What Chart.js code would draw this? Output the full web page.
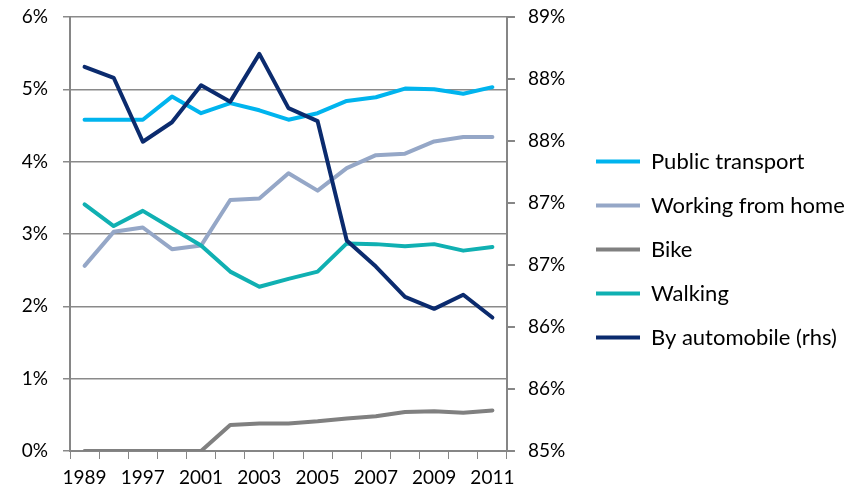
<!DOCTYPE html>
<html>
<head>
  <title>Commuting shares</title>
  <script src="https://cdn.jsdelivr.net/npm/chart.js"></script>
  <style>
    body { margin: 0; background: #fff; }
  </style>
</head>
<body>
  <canvas id="myChart" width="867" height="494"></canvas>

<script>
  // categories (only every other one is labelled on the axis)
  const years = ['1989', '1993', '1997', '2000', '2001', '2002', '2003', '2004', '2005', '2006', '2007', '2008', '2009', '2010', '2011'];

  // left axis, % of commuters
  const publicTransport = [4.58, 4.58, 4.58, 4.90, 4.67, 4.81, 4.71, 4.58, 4.67, 4.84, 4.89, 5.01, 5.00, 4.94, 5.03];
  const workingFromHome = [2.56, 3.03, 3.09, 2.79, 2.84, 3.47, 3.49, 3.84, 3.60, 3.91, 4.09, 4.11, 4.28, 4.34, 4.34];
  const bike = [0, 0, 0, 0, 0, 0.36, 0.38, 0.38, 0.41, 0.45, 0.48, 0.54, 0.55, 0.53, 0.56];
  const walking = [3.41, 3.11, 3.32, 3.08, 2.84, 2.48, 2.27, 2.38, 2.48, 2.87, 2.86, 2.83, 2.86, 2.77, 2.82];

  // right axis (rhs)
  const automobile = [88.54, 88.44, 87.85, 88.03, 88.37, 88.22, 88.66, 88.16, 88.04, 86.94, 86.70, 86.42, 86.31, 86.44, 86.23];

  const font = "Lato, 'Open Sans', sans-serif";
  const axisGrey = '#868686';

  function line(label, data, color, order, axis) {
    return {
      label: label,
      data: data,
      borderColor: color,
      backgroundColor: color,
      borderWidth: 4,
      borderJoinStyle: 'round',
      borderCapStyle: 'round',
      pointRadius: 0,
      tension: 0,
      order: order,
      yAxisID: axis
    };
  }

  // the layout caps a side legend at 1/6 of the width, so move it next to the rhs axis afterwards
  const legendSpot = {
    id: 'legendSpot',
    afterLayout: function (chart) {
      const lg = chart.legend;
      lg.left = 574;
      lg.right = 867;
      lg.width = lg.right - lg.left;
      lg.top -= 6;
      lg.bottom -= 6;
    }
  };

  new Chart(document.getElementById('myChart'), {
    type: 'line',
    data: {
      labels: years,
      datasets: [
        line('Public transport', publicTransport, '#00B4EE', 4, 'y'),
        line('Working from home', workingFromHome, '#95A7C7', 3, 'y'),
        line('Bike', bike, '#808080', 2, 'y'),
        line('Walking', walking, '#10B0B2', 1, 'y'),
        line('By automobile (rhs)', automobile, '#0B2B6E', 0, 'y1')
      ]
    },
    plugins: [legendSpot],
    options: {
      responsive: false,
      animation: false,
      layout: { padding: { top: 17, right: 10, left: 0, bottom: 0 } },
      plugins: {
        tooltip: { enabled: false },
        legend: {
          position: 'right',
          labels: {
            color: '#000',
            font: { family: font, size: 22 },
            boxWidth: 44,
            boxHeight: 4,
            padding: 22,
            generateLabels: function (chart) {
              return chart.data.datasets.map(function (ds, i) {
                return {
                  text: ds.label,
                  fillStyle: ds.borderColor,
                  strokeStyle: ds.borderColor,
                  lineWidth: 0,
                  fontColor: '#000',
                  datasetIndex: i
                };
              });
            }
          }
        }
      },
      scales: {
        x: {
          offset: true,
          border: { color: axisGrey, width: 2 },
          grid: { offset: true, drawOnChartArea: false, color: axisGrey, tickLength: 8, lineWidth: 1 },
          ticks: {
            autoSkip: false,
            maxRotation: 0,
            padding: 7,
            color: '#000',
            font: { family: font, size: 19 },
            callback: function (v, i) { return i % 2 === 0 ? years[i] : ''; }
          },
          afterFit: function (s) { s.height = 43; }
        },
        y: {
          position: 'left',
          min: 0,
          max: 6,
          border: { color: axisGrey, width: 2 },
          grid: { color: '#8a8a8a', tickLength: 7, lineWidth: 1.5 },
          ticks: {
            stepSize: 1,
            padding: 15,
            color: '#000',
            font: { family: font, size: 19 },
            callback: function (v) { return v + '%'; }
          },
          afterFit: function (s) { s.width = 70; s.paddingTop = 0; s.paddingBottom = 0; }
        },
        y1: {
          position: 'right',
          min: 85,
          max: 89,
          border: { color: axisGrey, width: 2 },
          grid: { drawOnChartArea: false, color: axisGrey, tickLength: 8, lineWidth: 2 },
          ticks: {
            count: 8,
            padding: 13,
            color: '#000',
            font: { family: font, size: 19 },
            callback: function (v) { return Math.round(v) + '%'; }
          },
          // 867 - 10 padding - 142.8 legend box - 507 plot edge
          afterFit: function (s) { s.width = 207.2; s.paddingTop = 0; s.paddingBottom = 0; }
        }
      }
    }
  });
</script>
</body>
</html>
